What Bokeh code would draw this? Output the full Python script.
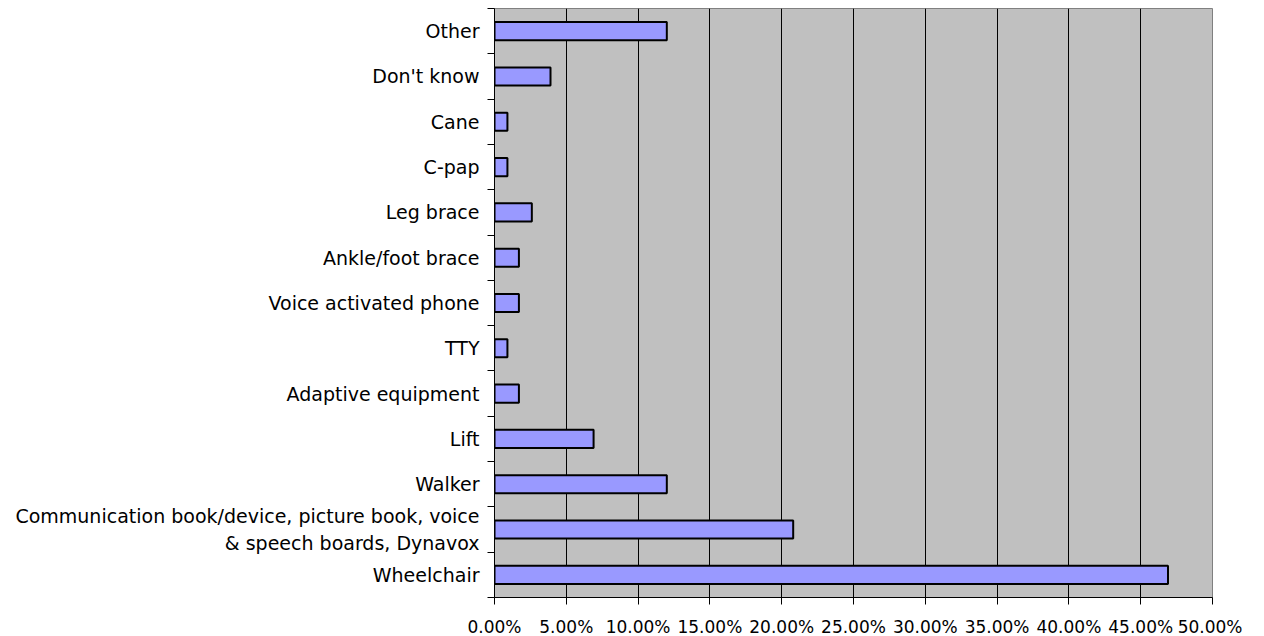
from bokeh.plotting import figure
from bokeh.models import FixedTicker, NumeralTickFormatter, Range1d, ColumnDataSource
from bokeh.embed import file_html
from bokeh.resources import INLINE

# Categories listed bottom to top
categories = [
    "Wheelchair",
    "Communication book/device, picture book, voice\n& speech boards, Dynavox",
    "Walker",
    "Lift",
    "Adaptive equipment",
    "TTY",
    "Voice activated phone",
    "Ankle/foot brace",
    "Leg brace",
    "C-pap",
    "Cane",
    "Don't know",
    "Other",
]
values = [0.469, 0.208, 0.120, 0.069, 0.017, 0.009, 0.017, 0.017, 0.026, 0.009, 0.009, 0.039, 0.120]
x_ticks = [0.0, 0.05, 0.10, 0.15, 0.20, 0.25, 0.30, 0.35, 0.40, 0.45, 0.50]

n = len(categories)
centers = [i + 0.5 for i in range(n)]
source = ColumnDataSource(dict(y=centers, v=values, cat=categories))

FONT = "DejaVu Sans"

p = figure(
    frame_width=718, frame_height=589,
    output_backend="svg", toolbar_location=None,
    x_range=Range1d(0, 0.5), y_range=Range1d(0, n),
    min_border_left=494, min_border_right=30, min_border_top=8, min_border_bottom=38,
)

p.background_fill_color = "#C0C0C0"
p.border_fill_color = "white"
p.outline_line_color = "#808080"
p.outline_line_width = 1

p.hbar(y="y", right="v", left=0, height=0.4, source=source,
       fill_color="#9999FF", line_color="black", line_width=2)

# x axis
p.xaxis.ticker = FixedTicker(ticks=x_ticks)
p.xaxis.formatter = NumeralTickFormatter(format="0.00%")
p.xaxis.major_tick_out = 7
p.xaxis.major_tick_in = 0
p.xaxis.minor_tick_out = 0
p.xaxis.minor_tick_in = 0
p.xaxis.axis_line_color = "black"
p.xaxis.major_label_text_font = FONT
p.xaxis.major_label_text_font_size = "17px"
p.xaxis.major_label_text_color = "black"
p.xaxis.major_label_standoff = 12

# y axis: labels at category centers, ticks at band boundaries
p.yaxis.ticker = FixedTicker(ticks=centers, minor_ticks=list(range(n + 1)))
p.yaxis.major_label_overrides = {c: lab for c, lab in zip(centers, categories)}
p.yaxis.major_tick_out = 0
p.yaxis.major_tick_in = 0
p.yaxis.minor_tick_out = 7
p.yaxis.minor_tick_in = 0
p.yaxis.axis_line_color = "black"
p.yaxis.major_label_text_font = FONT
p.yaxis.major_label_text_font_size = "19px"
p.yaxis.major_label_text_color = "black"
p.yaxis.major_label_text_line_height = 1.25
p.yaxis.major_label_standoff = 8

p.xgrid.ticker = FixedTicker(ticks=x_ticks)
p.xgrid.grid_line_color = "black"
p.xgrid.grid_line_width = 1
p.ygrid.grid_line_color = None

open("out.html", "w").write(file_html(p, INLINE))
